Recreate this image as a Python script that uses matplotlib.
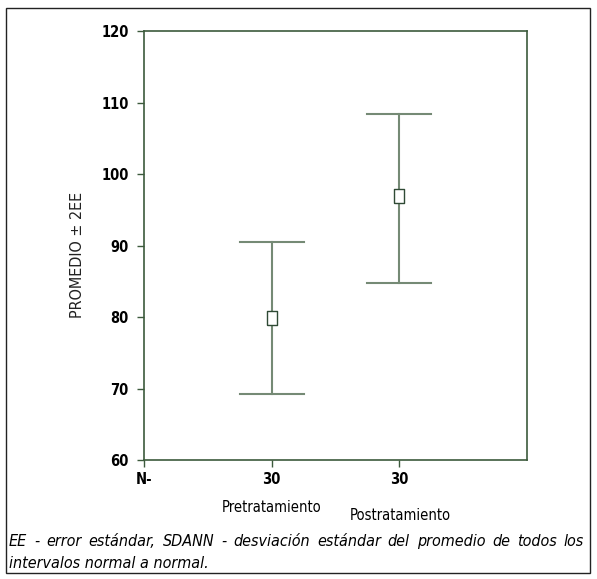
import matplotlib.pyplot as plt
from matplotlib.patches import Rectangle

# Data
groups = ["Pretratamiento", "Postratamiento"]
n_labels = ["N-", "30", "30"]
means = [79.8, 96.9]
upper = [90.5, 108.4]
lower = [69.3, 84.8]
yticks = [60, 70, 80, 90, 100, 110, 120]
caption = ["EE - error estándar, SDANN - desviación estándar del promedio de todos los",
           "intervalos normal a normal."]

plt.rcParams['font.family'] = ['DejaVu Sans']
plt.rcParams['font.stretch'] = 'condensed'

fig = plt.figure(figsize=(5.97, 5.79), dpi=100)
W, H = 597, 579
ax = fig.add_axes([144 / W, 1 - 460 / H, (527 - 144) / W, (460 - 31) / H])

line_col = "#758a75"
spine_col = "#3c5a3c"
xs = [1, 2]
for x, m, lo, hi in zip(xs, means, lower, upper):
    ax.plot([x, x], [lo, hi], color=line_col, lw=1.5, zorder=2)
    ax.plot([x - 0.25, x + 0.25], [hi, hi], color=line_col, lw=1.5, zorder=2)
    ax.plot([x - 0.25, x + 0.25], [lo, lo], color=line_col, lw=1.5, zorder=2)
box = [(-0.38, -0.5), (0.38, -0.5), (0.38, 0.5), (-0.38, 0.5), (-0.38, -0.5)]
ax.plot(xs, means, ls="none", marker=box, markersize=9.5, markerfacecolor="white",
        markeredgecolor="#2f4a35", markeredgewidth=1.0, zorder=3)

ax.set_xlim(0, 3)
ax.set_ylim(60, 120)
ax.set_yticks(yticks)
ax.set_yticklabels([str(v) for v in yticks], fontsize=10.5, fontweight="bold")
ax.set_xticks([0, 1, 2])
ax.set_xticklabels(n_labels, fontsize=10.5, fontweight="bold")
ax.tick_params(axis="both", direction="out", length=5, color=spine_col, width=1)
ax.tick_params(axis="x", pad=4)
ax.tick_params(axis="y", pad=6)
for s in ax.spines.values():
    s.set_color(spine_col)
    s.set_linewidth(1.2)

ax.set_ylabel("PROMEDIO ± 2EE", fontsize=11.5, color="#222222")
ax.yaxis.set_label_coords((85 - 144) / (527 - 144), (460 - 255) / (460 - 31))

fig.text(272 / W, 1 - 508 / H, groups[0], ha="center", va="center", fontsize=10.5)
fig.text(400 / W, 1 - 515 / H, groups[1], ha="center", va="center", fontsize=10.5)

# caption: first line justified across the frame, second line left aligned
renderer = fig.canvas.get_renderer()
x0, x1 = 9, 584
words = caption[0].split()
txts = [fig.text(0, 1 - 546 / H, w, ha="left", va="baseline", fontsize=11.5, style="italic")
        for w in words]
widths = [t.get_window_extent(renderer).width for t in txts]
gap = (x1 - x0 - sum(widths)) / (len(words) - 1)
pos = x0
for t, w in zip(txts, widths):
    t.set_x(pos / W)
    pos += w + gap
fig.text(x0 / W, 1 - 568 / H, caption[1], ha="left", va="baseline", fontsize=11.5, style="italic")

fig.patches.append(Rectangle((6 / W, 1 - 573 / H), (590 - 6) / W, (573 - 8) / H,
                             transform=fig.transFigure, fill=False,
                             edgecolor="#222222", lw=1.0))

fig.savefig("out.png", dpi=100)
